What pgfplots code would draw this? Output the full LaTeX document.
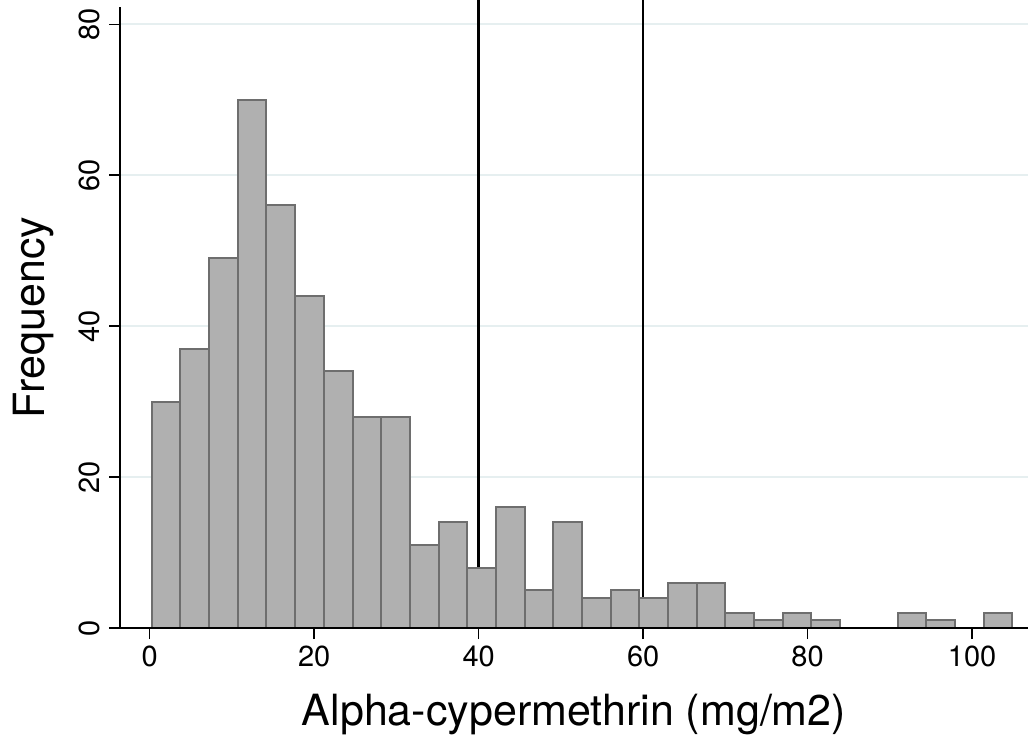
\documentclass[border=0pt]{standalone}
\usepackage{fontspec}
\setmainfont{TeX Gyre Heros}
\usepackage{pgfplots}
\pgfplotsset{compat=1.18}
\definecolor{barfill}{HTML}{B0B0B0}
\definecolor{baredge}{HTML}{6E6E6E}
\definecolor{gridc}{HTML}{E6EFF0}

\begin{document}
\begin{tikzpicture}
\begin{axis}[
  scale only axis, width=454pt, height=310.5pt,
  xmin=-3.61, xmax=106.8, ymin=0, ymax=82.3,
  axis x line*=bottom, axis y line*=left,
  axis line style={-, black, line width=1pt},
  xtick={0,20,...,100}, ytick={0,20,...,80},
  tick align=outside, major tick length=5.5pt,
  tick style={black, line width=0.8pt},
  ymajorgrids, grid style={gridc, line width=1pt},
  ticklabel style={font=\fontsize{14.5}{14.5}\selectfont},
  yticklabel style={rotate=90, anchor=south, yshift=1pt},
  xlabel={Alpha-cypermethrin (mg/m2)}, ylabel={Frequency},
  label style={font=\fontsize{21.5}{21.5}\selectfont},
  xlabel style={yshift=-6.5pt},
  ylabel style={yshift=5.5pt},
  /pgf/number format/assume math mode=true,
  clip=false,
]
\addplot[black, line width=1.2pt, forget plot] coordinates {(40,0) (40,83.2)};
\addplot[black, line width=1.2pt, forget plot] coordinates {(60,0) (60,83.2)};
\addplot[ybar interval, fill=barfill, draw=baredge, line width=1pt] coordinates {
(0.25,30) (3.74,37) (7.23,49) (10.71,70) (14.20,56) (17.69,44)
(21.18,34) (24.67,28) (28.15,28) (31.64,11) (35.13,14) (38.62,8)
(42.11,16) (45.59,5) (49.08,14) (52.57,4) (56.06,5) (59.55,4)
(63.03,6) (66.52,6) (70.01,2) (73.50,1) (76.99,2) (80.47,1)
(83.96,0) (87.45,0) (90.94,2) (94.43,1) (97.91,0) (101.40,2) (104.89,2)};
\draw[black, line width=1pt] (axis cs:-4.95,0) -- (axis cs:106.8,0);
\end{axis}
\pgfresetboundingbox
\path[use as bounding box] (current axis.south west) ++(-60pt,-58pt) rectangle ++(516.5pt,372pt);
\end{tikzpicture}
\end{document}
